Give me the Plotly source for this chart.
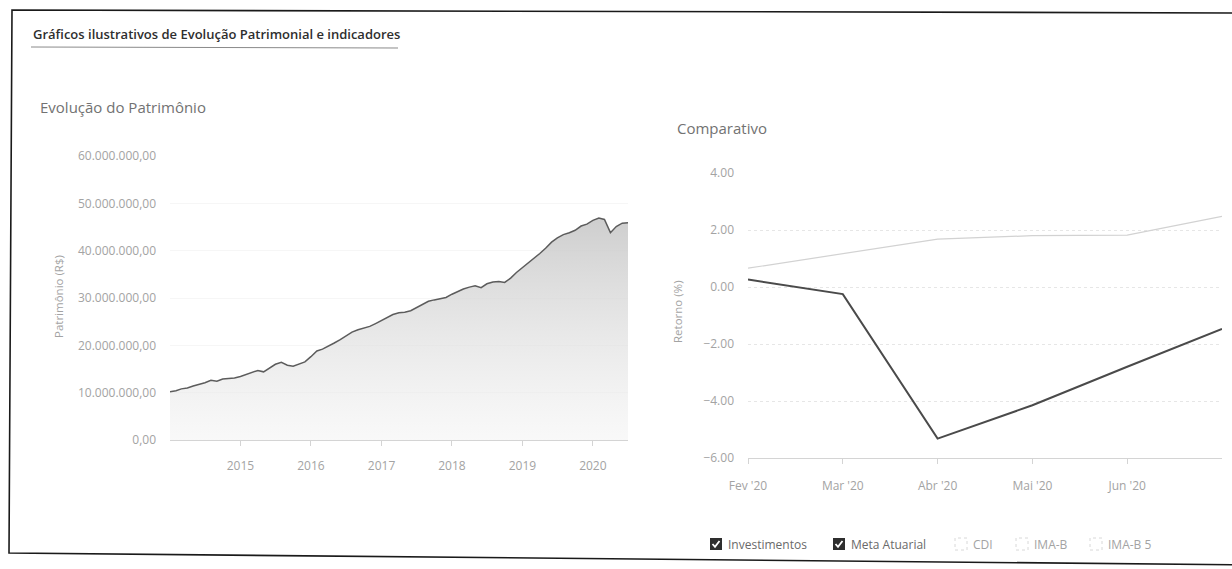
import plotly.graph_objects as go
import pandas as pd

W, H = 1232, 569
FONT = "Open Sans"

# ---------------- data ----------------
pat_datas = pd.date_range("2014-01-01", "2020-07-01", freq="MS")
pat_valores_mi = [
    10.2, 10.4, 10.8, 11.0, 11.4, 11.7, 12.1, 12.6, 12.4, 12.9, 13.0, 13.1,
    13.4, 13.8, 14.2, 14.7, 14.4, 15.2, 16.0, 16.4, 15.8, 15.6, 16.0, 16.5,
    17.6, 18.8, 19.2, 19.8, 20.5, 21.2, 22.0, 22.8, 23.3, 23.6, 24.0, 24.6,
    25.2, 25.8, 26.5, 26.9, 27.0, 27.3, 28.0, 28.7, 29.3, 29.6, 29.8, 30.1,
    30.8, 31.4, 31.9, 32.3, 32.6, 32.2, 33.0, 33.4, 33.5, 33.3, 34.2, 35.4,
    36.4, 37.3, 38.3, 39.4, 40.5, 41.8, 42.7, 43.4, 43.8, 44.3, 45.2, 45.6,
    46.4, 46.9, 46.6, 43.8, 45.1, 45.8, 45.9,
]
pat_anos = ["2015-01-01", "2016-01-01", "2017-01-01", "2018-01-01", "2019-01-01", "2020-01-01"]
pat_tick_vals = [0, 10e6, 20e6, 30e6, 40e6, 50e6, 60e6]
pat_tick_text = ["0,00", "10.000.000,00", "20.000.000,00", "30.000.000,00",
                 "40.000.000,00", "50.000.000,00", "60.000.000,00"]

comp_meses = ["Fev '20", "Mar '20", "Abr '20", "Mai '20", "Jun '20", "Jul '20"]
investimentos = [0.26, -0.25, -5.32, -4.15, -2.80, -1.47]
meta_atuarial = [0.66, 1.17, 1.68, 1.80, 1.82, 2.48]

legenda_nomes = ["Investimentos", "Meta Atuarial", "CDI", "IMA-B", "IMA-B 5"]
legenda_ativos = [True, True, False, False, False]


def px(x):
    return x / W


def py(y):
    return 1 - y / H


fig = go.Figure()

# Evolução do Patrimônio
fig.add_trace(go.Scatter(
    x=pat_datas, y=[v * 1e6 for v in pat_valores_mi], mode="lines",
    line=dict(color="#5c5c5c", width=1.5),
    fill="tozeroy",
    fillgradient=dict(type="vertical",
                      colorscale=[[0, "rgba(242,242,242,0.5)"], [1, "rgba(200,200,200,0.9)"]],
                      start=0, stop=47e6),
    xaxis="x", yaxis="y", showlegend=False, hoverinfo="skip"))

# Comparativo
x_idx = list(range(len(comp_meses)))
fig.add_trace(go.Scatter(
    x=x_idx, y=meta_atuarial, mode="lines", name="Meta Atuarial",
    line=dict(color="#d2d2d2", width=1.2), xaxis="x2", yaxis="y2",
    showlegend=False, hoverinfo="skip"))
fig.add_trace(go.Scatter(
    x=x_idx, y=investimentos, mode="lines", name="Investimentos",
    line=dict(color="#4a4a4a", width=2), xaxis="x2", yaxis="y2",
    showlegend=False, hoverinfo="skip"))

tickfont = dict(family=FONT, size=12, color="#a3a3a3")

fig.update_layout(
    width=W, height=H, autosize=False,
    margin=dict(l=0, r=0, t=0, b=0, pad=0, autoexpand=False),
    paper_bgcolor="white", plot_bgcolor="white",
    font=dict(family=FONT),
    xaxis=dict(domain=[px(170), px(628)], anchor="y", automargin=False,
               range=[pat_datas[0], pat_datas[-1]],
               tickvals=pat_anos, tickformat="%Y",
               showgrid=False, showline=True, linecolor="#d4d4d4", linewidth=1,
               ticks="outside", ticklen=5, tickcolor="#d4d4d4",
               tickfont=tickfont, ticklabelstandoff=10, zeroline=False),
    yaxis=dict(domain=[py(440), py(156)], anchor="x", automargin=False,
               range=[0, 60e6], tickvals=pat_tick_vals, ticktext=pat_tick_text,
               showgrid=True, gridcolor="#f6f6f6", zeroline=False,
               tickfont=tickfont, ticklabelstandoff=13),
    xaxis2=dict(domain=[px(748), px(1222)], anchor="y2", automargin=False,
                range=[0, 5], tickvals=x_idx[:5], ticktext=comp_meses[:5],
                showgrid=False, showline=True, linecolor="#d4d4d4", linewidth=1,
                ticks="outside", ticklen=5, tickcolor="#d4d4d4",
                tickfont=tickfont, ticklabelstandoff=12, zeroline=False),
    yaxis2=dict(domain=[py(458), py(173)], anchor="x2", automargin=False,
                range=[-6, 4], dtick=2, tickformat=".2f",
                showgrid=True, gridcolor="#e6e6e6", griddash="dot", zeroline=False,
                tickfont=tickfont, ticklabelstandoff=13),
)

annotations = [
    dict(text="Gráficos ilustrativos de Evolução Patrimonial e indicadores",
         x=px(31), y=py(34), xanchor="left", yanchor="middle",
         font=dict(family=FONT, size=13, color="#2e2e2e", weight=600)),
    dict(text="Evolução do Patrimônio", x=px(38), y=py(107), xanchor="left", yanchor="middle",
         font=dict(family=FONT, size=15, color="#727272")),
    dict(text="Comparativo", x=px(675), y=py(128), xanchor="left", yanchor="middle",
         font=dict(family=FONT, size=15, color="#727272")),
    dict(text="Patrimônio (R$)", x=px(58), y=py(297), textangle=-90,
         xanchor="center", yanchor="middle",
         font=dict(family=FONT, size=11.5, color="#a3a3a3")),
    dict(text="Retorno (%)", x=px(677), y=py(312), textangle=-90,
         xanchor="center", yanchor="middle",
         font=dict(family=FONT, size=11.5, color="#a3a3a3")),
]

# frame of the scanned box
frame_path = (f"M {px(1260)} {py(13)} L {px(12)} {py(10)} L {px(9)} {py(553)} "
              f"L {px(1260)} {py(565)}")
shapes = [
    dict(type="path", xref="paper", yref="paper", path=frame_path,
         line=dict(color="#1a1a1a", width=1.6)),
    # title underline
    dict(type="line", xref="paper", yref="paper", x0=px(31), x1=px(398),
         y0=py(47), y1=py(48), line=dict(color="#8a8a8a", width=1)),
]

# legend with checkboxes
box_x = [710, 833, 955, 1016, 1090]
LEG_Y = 544
for nome, ativo, bx in zip(legenda_nomes, legenda_ativos, box_x):
    y0, y1 = LEG_Y - 6, LEG_Y + 6
    if ativo:
        shapes.append(dict(type="rect", xref="paper", yref="paper",
                           x0=px(bx), x1=px(bx + 12), y0=py(y1), y1=py(y0),
                           fillcolor="#2e2e2e", line=dict(width=0)))
        shapes.append(dict(type="path", xref="paper", yref="paper",
                           path=(f"M {px(bx + 2.5)} {py(LEG_Y)} L {px(bx + 5)} {py(LEG_Y + 2.8)} "
                                 f"L {px(bx + 9.5)} {py(LEG_Y - 3)}"),
                           line=dict(color="white", width=1.8)))
        col = "#6a6a6a"
    else:
        shapes.append(dict(type="rect", xref="paper", yref="paper",
                           x0=px(bx), x1=px(bx + 12), y0=py(y1), y1=py(y0),
                           fillcolor="white", line=dict(color="#d8d8d8", width=1, dash="dot")))
        col = "#a3a3a3"
    annotations.append(dict(text=nome, x=px(bx + 16), y=py(LEG_Y), xanchor="left", yanchor="middle",
                            font=dict(family=FONT, size=12, color=col)))

for a in annotations:
    a.update(xref="paper", yref="paper", showarrow=False)

fig.update_layout(annotations=annotations, shapes=shapes)

fig.write_html("out.html", post_script="document.body.style.margin='0';document.body.style.overflow='hidden';")
